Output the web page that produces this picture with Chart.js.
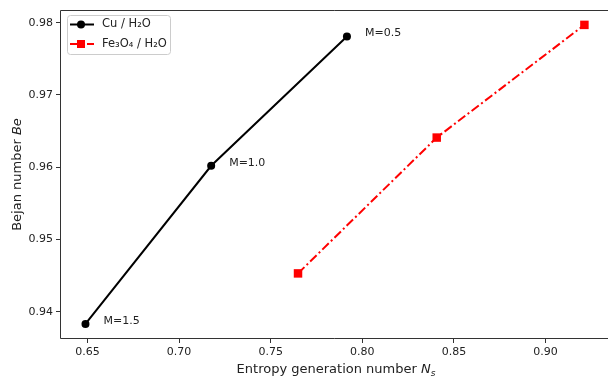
<!DOCTYPE html>
<html>
<head>
<meta charset="utf-8">
<script src="https://cdn.jsdelivr.net/npm/chart.js@4"></script>
<style>
  html, body { margin: 0; padding: 0; background: #fff; overflow: hidden; }
  #wrap { width: 608px; height: 377px; }
  #beChart { display: block; }
</style>
</head>
<body>
<div id="wrap"><canvas id="beChart" width="608" height="377"></canvas></div>
<script>
// values
const cuNs = [0.6489, 0.7175, 0.7916];
const cuBe = [0.9383, 0.9602, 0.9781];
const feNs = [0.7649, 0.8406, 0.9212];
const feBe = [0.9453, 0.9641, 0.9797];
const mLabels = ['M=1.5', 'M=1.0', 'M=0.5'];
const xTicks = [0.65, 0.70, 0.75, 0.80, 0.85, 0.90];
const yTicks = [0.94, 0.95, 0.96, 0.97, 0.98];
const seriesNames = ['Cu / H\u2082O', 'Fe\u2083O\u2084 / H\u2082O'];

const FONT = '"DejaVu Sans", sans-serif';

function pts(xs, ys) {
    return xs.map((x, i) => ({ x: x, y: ys[i] }));
}

// draw a run of text pieces with different styles, left to right
function drawRuns(ctx, runs, x, y) {
    let cx = x;
    runs.forEach(r => {
        ctx.font = r.font;
        ctx.fillText(r.text, cx, y + (r.dy || 0));
        cx += ctx.measureText(r.text).width;
    });
    return cx - x;
}
function runsWidth(ctx, runs) {
    let w = 0;
    runs.forEach(r => { ctx.font = r.font; w += ctx.measureText(r.text).width; });
    return w;
}

const extras = {
    id: 'extras',
    afterDraw(chart) {
        const ctx = chart.ctx;
        const a = chart.chartArea;
        ctx.save();

        // frame: left, top, bottom - the right spine is cut off in the original
        ctx.strokeStyle = '#333';
        ctx.lineWidth = 1;
        ctx.beginPath();
        ctx.moveTo(chart.width, a.top + 0.5);
        ctx.lineTo(a.left + 0.5, a.top + 0.5);
        ctx.lineTo(a.left + 0.5, a.bottom - 0.5);
        ctx.lineTo(chart.width, a.bottom - 0.5);
        ctx.stroke();

        // M labels next to Cu points
        const meta = chart.getDatasetMeta(0);
        ctx.fillStyle = '#222';
        ctx.font = '11px ' + FONT;
        ctx.textBaseline = 'middle';
        ctx.textAlign = 'left';
        meta.data.forEach((p, i) => {
            ctx.fillText(mLabels[i], p.x + 18, p.y - 3);
        });

        // x axis title
        ctx.fillStyle = '#222';
        ctx.textBaseline = 'alphabetic';
        const xr = [
            { text: 'Entropy generation number ', font: '13px ' + FONT },
            { text: 'N', font: 'italic 13px ' + FONT },
            { text: 's', font: 'italic 9px ' + FONT, dy: 3 }
        ];
        const xw = runsWidth(ctx, xr);
        drawRuns(ctx, xr, 336 - xw / 2, 373);

        // y axis title
        const yr = [
            { text: 'Bejan number ', font: '13px ' + FONT },
            { text: 'Be', font: 'italic 13px ' + FONT }
        ];
        const yw = runsWidth(ctx, yr);
        ctx.save();
        ctx.translate(21, (a.top + a.bottom) / 2);
        ctx.rotate(-Math.PI / 2);
        drawRuns(ctx, yr, -yw / 2, 0);
        ctx.restore();

        // legend box
        const lx = a.left + 7, ly = a.top + 5, lw = 103, lh = 39;
        ctx.fillStyle = 'rgba(255,255,255,0.8)';
        ctx.strokeStyle = '#ccc';
        ctx.lineWidth = 1;
        ctx.beginPath();
        ctx.roundRect(lx + 0.5, ly + 0.5, lw, lh, 3);
        ctx.fill();
        ctx.stroke();

        chart.data.datasets.forEach((ds, i) => {
            const yy = ly + 9.5 + i * 19.5;
            ctx.strokeStyle = ds.borderColor;
            ctx.lineWidth = 2;
            ctx.setLineDash(ds.borderDash || []);
            ctx.beginPath();
            ctx.moveTo(lx + 3, yy);
            ctx.lineTo(lx + 27, yy);
            ctx.stroke();
            ctx.setLineDash([]);
            ctx.fillStyle = ds.backgroundColor;
            if (ds.pointStyle === 'rect') {
                ctx.fillRect(lx + 14 - 4, yy - 4, 8, 8);
            } else {
                ctx.beginPath();
                ctx.arc(lx + 14, yy, 4, 0, Math.PI * 2);
                ctx.fill();
            }
            ctx.fillStyle = '#222';
            ctx.font = '11.5px ' + FONT;
            ctx.textBaseline = 'middle';
            ctx.fillText(ds.label, lx + 35, yy);
        });

        ctx.restore();
    }
};

const ctx = document.getElementById('beChart').getContext('2d');
new Chart(ctx, {
    type: 'line',
    data: {
        datasets: [{
            label: seriesNames[0],
            data: pts(cuNs, cuBe),
            borderColor: '#000',
            backgroundColor: '#000',
            borderWidth: 2,
            pointStyle: 'circle',
            pointRadius: 4,
            pointBorderWidth: 0,
            pointHoverRadius: 4,
            tension: 0
        }, {
            label: seriesNames[1],
            data: pts(feNs, feBe),
            borderColor: '#ff0000',
            backgroundColor: '#ff0000',
            borderWidth: 2,
            borderDash: [9, 3, 2, 3],
            pointStyle: 'rect',
            pointRadius: 6,
            pointBorderWidth: 0,
            pointHoverRadius: 6,
            tension: 0
        }]
    },
    options: {
        responsive: false,
        animation: false,
        layout: { padding: { top: 10, right: 0, left: 0, bottom: 0 } },
        plugins: {
            legend: { display: false },
            tooltip: { enabled: false }
        },
        scales: {
            x: {
                type: 'linear',
                min: 0.635,
                max: 0.9308,
                afterBuildTicks: s => { s.ticks = xTicks.map(v => ({ value: v })); },
                afterFit: s => { s.height = 38; s.paddingLeft = 0; s.paddingRight = 0; },
                border: { display: false },
                grid: { drawOnChartArea: false, drawTicks: true, tickLength: 4, color: '#333' },
                ticks: {
                    color: '#222',
                    font: { family: FONT, size: 11 },
                    padding: 3,
                    maxRotation: 0,
                    callback: v => v.toFixed(2)
                }
            },
            y: {
                type: 'linear',
                min: 0.93622,
                max: 0.98176,
                afterBuildTicks: s => { s.ticks = yTicks.map(v => ({ value: v })); },
                afterFit: s => { s.width = 60; s.paddingTop = 0; s.paddingBottom = 0; },
                border: { display: false },
                grid: { drawOnChartArea: false, drawTicks: true, tickLength: 4, color: '#333' },
                ticks: {
                    color: '#222',
                    font: { family: FONT, size: 11 },
                    padding: 3,
                    callback: v => v.toFixed(2)
                }
            }
        }
    },
    plugins: [extras]
});
</script>
</body>
</html>
